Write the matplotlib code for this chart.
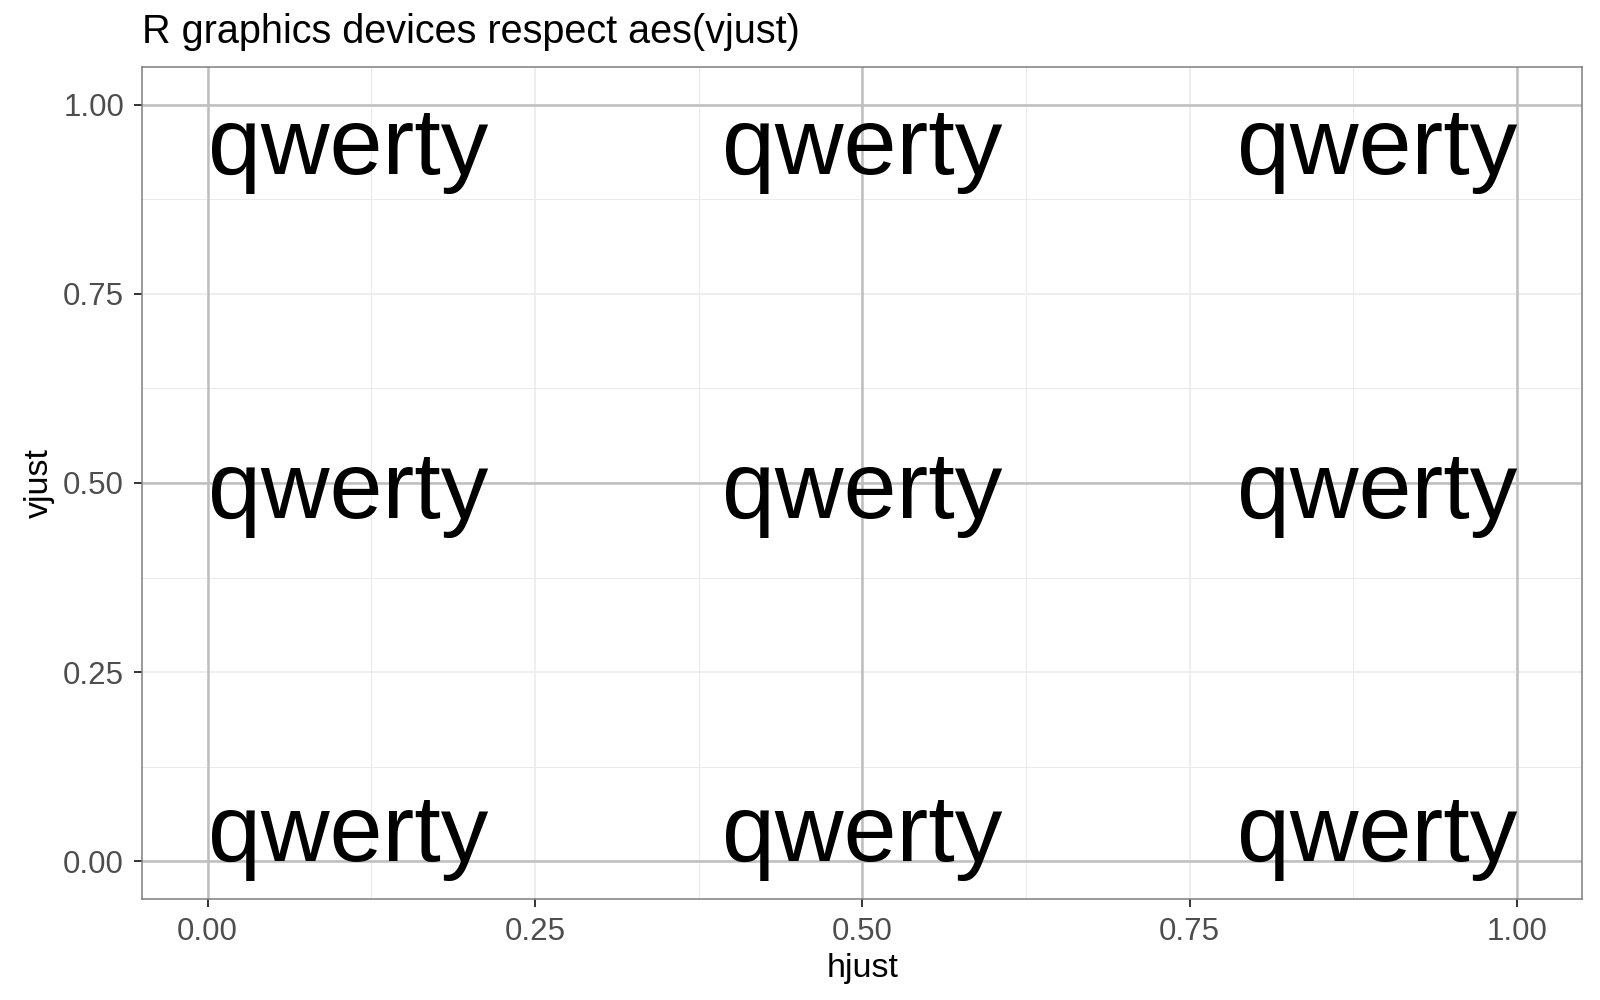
import matplotlib
matplotlib.use("Agg")
import matplotlib.pyplot as plt
from matplotlib.ticker import MultipleLocator

# data: every combination of hjust / vjust
hjust = [0.0, 0.5, 1.0, 0.0, 0.5, 1.0, 0.0, 0.5, 1.0]
vjust = [0.0, 0.0, 0.0, 0.5, 0.5, 0.5, 1.0, 1.0, 1.0]
label = "qwerty"
ref_lines = [0.0, 0.5, 1.0]
ticks = [0.00, 0.25, 0.50, 0.75, 1.00]
tick_labels = ["0.00", "0.25", "0.50", "0.75", "1.00"]

plt.rcParams['font.family'] = ['Liberation Sans', 'DejaVu Sans']

ha_map = {0.0: "left", 0.5: "center", 1.0: "right"}
va_map = {0.0: "baseline", 0.5: "center_baseline", 1.0: "top"}

fig = plt.figure(figsize=(16, 10), dpi=100)
ax = fig.add_axes([0.0888, 0.101, 0.9002, 0.832])

ax.set_xlim(-0.05, 1.05)
ax.set_ylim(-0.05, 1.05)
ax.set_xticks(ticks)
ax.set_xticklabels(tick_labels)
ax.set_yticks(ticks)
ax.set_yticklabels(tick_labels)
ax.xaxis.set_minor_locator(MultipleLocator(0.125))
ax.yaxis.set_minor_locator(MultipleLocator(0.125))

# theme_bw grid
ax.grid(which="major", color="#EBEBEB", linewidth=1.2, zorder=0)
ax.grid(which="minor", color="#EBEBEB", linewidth=0.7, zorder=0)
ax.set_axisbelow(True)

# guide lines at the justification values
for v in ref_lines:
    ax.axvline(v, color="#BEBEBE", linewidth=1.8, zorder=1)
    ax.axhline(v, color="#BEBEBE", linewidth=1.8, zorder=1)

ax.tick_params(which="minor", length=0)
ax.tick_params(which="major", length=6, width=1.4, color="#333333",
               labelsize=22.5, labelcolor="#4D4D4D", pad=7)
for s in ax.spines.values():
    s.set_color("#7F7F7F")
    s.set_linewidth(1.1)

for x, y in zip(hjust, vjust):
    ax.text(x, y, label, ha=ha_map[x], va=va_map[y], fontsize=68.5,
            color="black", zorder=3)

ax.set_xlabel("hjust", fontsize=24.5, labelpad=4)
ax.set_ylabel("vjust", fontsize=24.5, labelpad=6)
fig.text(0.0888, 0.957, "R graphics devices respect aes(vjust)", fontsize=28.5,
         ha="left", va="baseline")

fig.savefig("out.png", dpi=100)
